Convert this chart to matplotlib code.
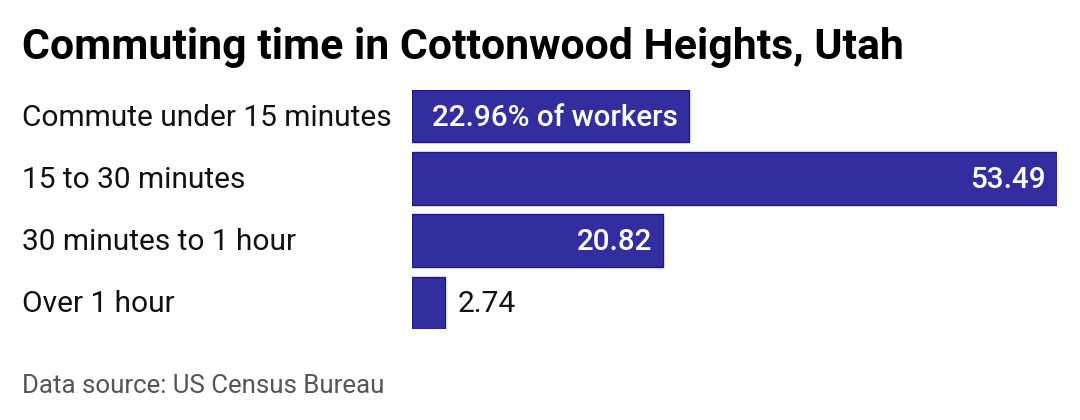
import matplotlib
matplotlib.use("Agg")
import matplotlib.pyplot as plt

categories = ["Commute under 15 minutes", "15 to 30 minutes", "30 minutes to 1 hour", "Over 1 hour"]
values = [22.96, 53.49, 20.82, 2.74]
value_labels = ["22.96% of workers", "53.49", "20.82", "2.74"]
title = "Commuting time in Cottonwood Heights, Utah"
source = "Data source: US Census Bureau"

plt.rcParams['font.family'] = ['Roboto', 'DejaVu Sans']

W, H = 1080, 420
fig = plt.figure(figsize=(W / 100, H / 100), dpi=100)
ax = fig.add_axes([412 / W, 1 - 329 / H, (1057 - 412) / W, (329 - 90) / H])

ys = list(range(len(categories)))
ax.barh(ys, values, height=0.84, color="#332e9f", edgecolor="#1c1a8c", linewidth=1)
ax.set_xlim(0, max(values))
ax.set_ylim(len(categories) - 1 + 0.42, -0.42)
ax.axis("off")

dy = -9.5
for y, v, lab, cat in zip(ys, values, value_labels, categories):
    ax.annotate(cat, xy=(0, y), xycoords=("axes fraction", "data"),
                xytext=(-390, dy), textcoords="offset pixels",
                ha="left", va="baseline", fontsize=21.5, color="#111111")
    if v > 10:
        ax.annotate(lab, xy=(v, y), xytext=(-11, dy), textcoords="offset pixels",
                    ha="right", va="baseline", fontsize=21.3, color="white",
                    fontweight="medium")
    else:
        ax.annotate(lab, xy=(v, y), xytext=(13, dy), textcoords="offset pixels",
                    ha="left", va="baseline", fontsize=21.5, color="#111111")

fig.text(22 / W, 1 - 59 / H, title, fontsize=30.8, fontweight="bold", color="black",
         ha="left", va="baseline")
fig.text(22 / W, 1 - 393 / H, source, fontsize=18.6, color="#555555",
         ha="left", va="baseline")

fig.savefig("out.png", dpi=100, facecolor="white")
